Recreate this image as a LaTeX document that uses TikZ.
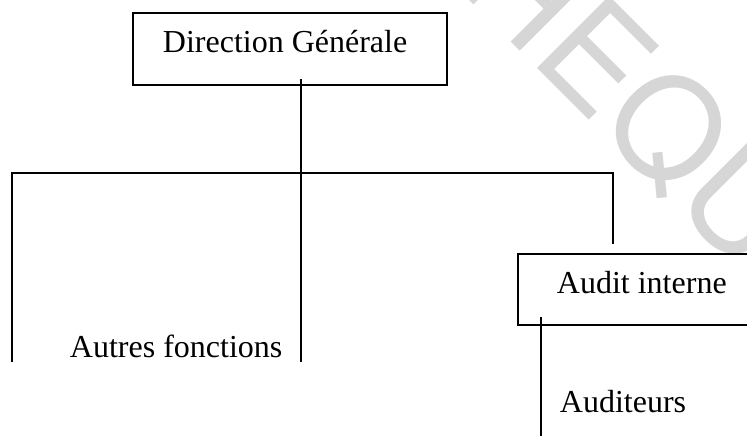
\documentclass[tikz,border=0pt]{standalone}
\usepackage{fontspec}
\setmainfont{Liberation Serif}
\newfontfamily\stampfont{TeX Gyre Heros}
\usetikzlibrary{calc}
\newcommand\fontspacing{\spaceskip 0pt\relax}
\begin{document}
\begin{tikzpicture}[x=1pt,y=-1pt,
  line width=1.9pt,
  plain text/.style={font=\fontsize{32}{38}\selectfont, inner sep=0pt},
  unitbox/.style={draw, line width=1.9pt, font=\fontsize{32}{38}\selectfont,
    align=left, inner ysep=0pt, text height=22pt, text depth=14pt,
    anchor=north west, execute at begin node=\fontspacing},
  stamp/.style={rotate=-45, text=black!16, inner sep=0pt,
    font=\stampfont\fontsize{140}{140}\selectfont}
]
\useasboundingbox (0,0) rectangle (747,436);
\clip (0,0) rectangle (747,436);

% background stamp
\node[stamp] (stampmark) at (637,99) {THEQUE};

% units
\node[unitbox, minimum width=314pt, minimum height=72pt,
  inner xsep=30pt, text width=254pt] (dg) at (132,12) {Direction Générale};
\node[unitbox, minimum width=260pt, minimum height=71pt,
  inner xsep=39pt, text width=182pt] (audit) at (517,253) {Audit interne};
\node[plain text, anchor=base west] (autres) at (69,357) {Autres fonctions};
\node[plain text, anchor=base west] (auditeurs) at (559,412) {Auditeurs};

% junction points
\coordinate (busL) at (12,173);
\coordinate (trunk) at (301,173);
\coordinate (busR) at (613,173);
\coordinate (autresL) at (12,362);
\coordinate (autresR) at (301,362);
\coordinate (auditLeg) at (541,440);

% connectors
\draw ($(dg.south -| trunk)+(0,-7)$) -- (autresR);
\draw (autresL) -- (busL) -- (busR) -- ($(audit.north -| busR)+(0,-9)$);
\draw ($(audit.south west)+(24,-9)$) -- (auditLeg);
\end{tikzpicture}
\end{document}
